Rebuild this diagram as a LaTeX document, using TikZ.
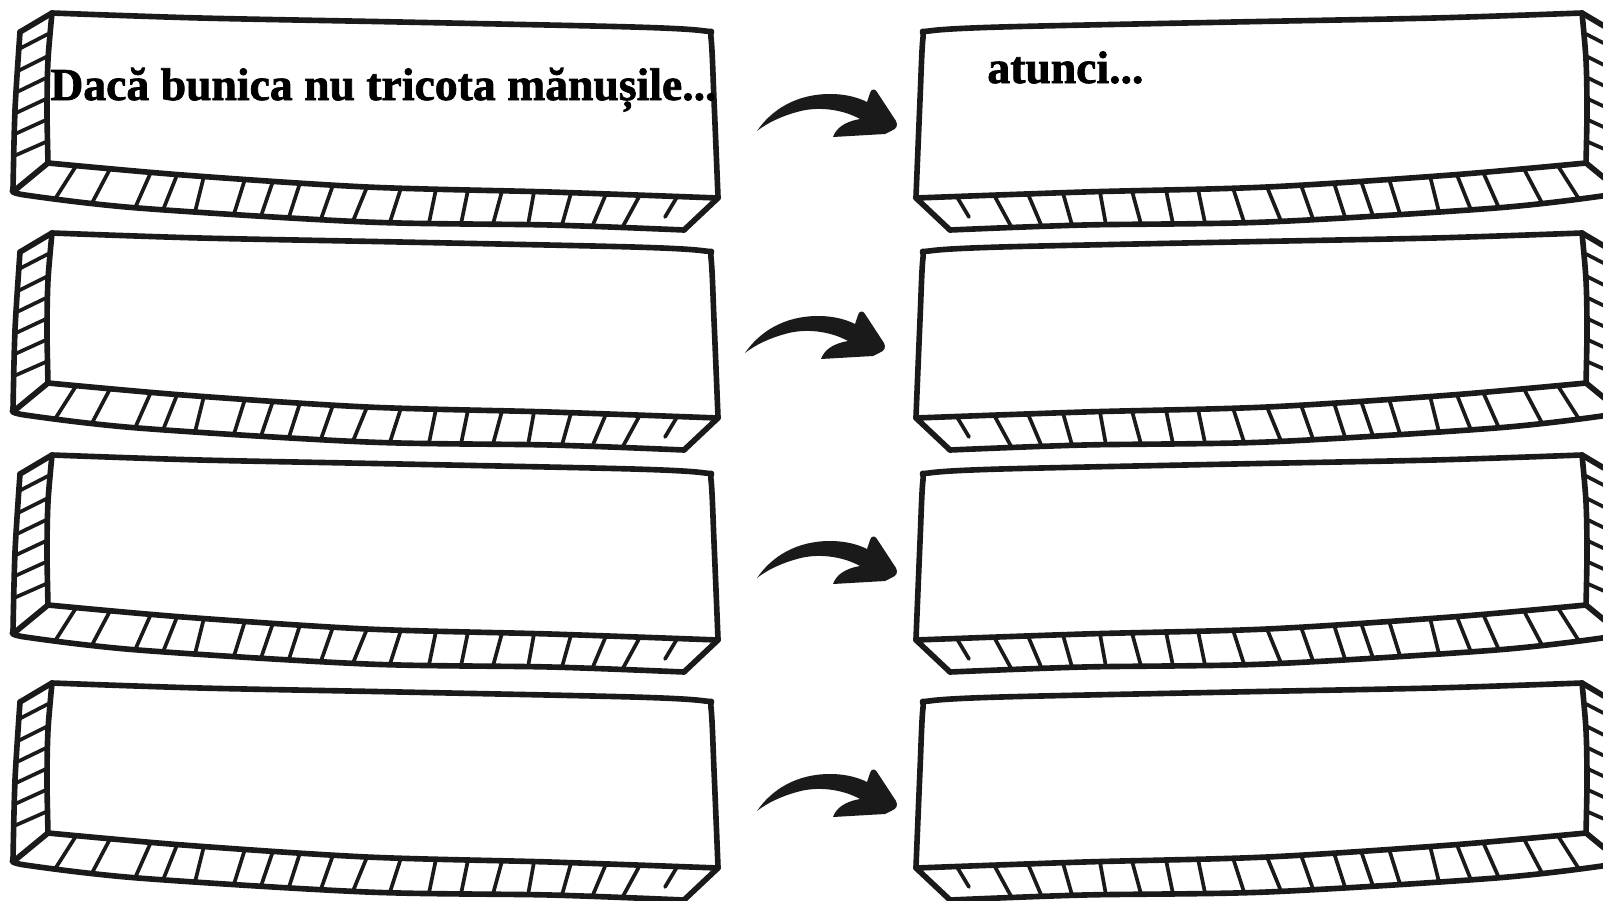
\documentclass[tikz,border=0pt]{standalone}
\usepackage{fontspec}
\setmainfont{Liberation Serif}
\newfontfamily\heavySerif{Liberation Serif Bold}[FakeBold=1.6]
\definecolor{inkBlack}{HTML}{1A1A1A}

\tikzset{
  boxEdge/.style={draw=inkBlack,line width=3.2pt,line cap=round,line join=round},
  boxHatch/.style={draw=inkBlack,line width=2.1pt,line cap=round},
  capText/.style={anchor=base west,inner sep=0pt,text=black,font=\heavySerif\fontsize{26pt}{30pt}\selectfont},
  pics/sketchBox/.style={code={
    % front face
    \draw[boxEdge] plot[smooth] coordinates {(52,13) (200,18) (400,22) (633,27) (705,31) (711,38) (714,100) (718,197)};
    \draw[boxEdge] plot[smooth] coordinates {(48,163) (183,175) (367,187) (550,192) (718,198)};
    \draw[boxEdge] plot[smooth] coordinates {(48,163) (47,110) (48,60) (52,13)};
    % side and bottom faces
    \draw[boxEdge] (52,13) -- (20,32);
    \draw[boxEdge] plot[smooth] coordinates {(20,32) (15,110) (13,190)};
    \draw[boxEdge] plot[smooth] coordinates {(13,190) (25,195) (138,208) (367,222) (550,225) (684,230)};
    \draw[boxEdge] (684,230) -- (718,198);
    \draw[boxEdge] (48,163) -- (14,191);
    \foreach \ya/\xb in {34/19,56/18,77/17,98/16,119/15,141/14}
      \draw[boxHatch] (48,\ya) -- (\xb,\ya+15);
    \foreach \xa/\ya/\xb/\yb in {76/166/55/199,110/169/92/203,151/172/135/208,177/175/163/210,
        204/176/195/212,245/179/234/214,273/181/261/216,300/183/289/217,333/185/321/219,
        367/187/353/221,401/188/390/222,436/189/429/223,468/190/461/224,502/191/493/224,
        534/192/528/225,571/193/562/225,606/194/592/227,640/195/622/228,677/197/665/217}
      \draw[boxHatch] (\xa,\ya) -- (\xb,\yb);
  }},
  pics/bentArrow/.style={code={
    \fill[inkBlack] (0,0) .. controls (15,-22) and (40,-37) .. (73,-37)
      .. controls (90,-37) and (102,-33) .. (110,-29) -- (113,-38)
      .. controls (114,-42) and (118,-43) .. (120,-39) -- (139,-10)
      .. controls (141,-6) and (140,-2) .. (134,0) -- (128,3) -- (76,6)
      .. controls (79,-2) and (86,-9) .. (103,-12)
      .. controls (85,-22) and (60,-25) .. (40,-19)
      .. controls (25,-15) and (10,-8) .. (0,0) -- cycle;
  }}
}

\begin{document}
\begin{tikzpicture}[x=0.02cm,y=-0.02cm]
  \useasboundingbox (0,0) rectangle (1603,900);
  \foreach \off in {0,220,442,670} {
    \pic at (0,\off) {sketchBox};
    \pic[xscale=-1] at (1634,\off) {sketchBox};
  }
  \foreach \ax/\ay in {757/131,745/353,757/578,757/811}
    \pic at (\ax,\ay) {bentArrow};
  \node[capText] (cause) at (50,100) {Dacă bunica nu tricota mănușile...};
  \node[capText] (effect) at (987,83) {atunci...};
\end{tikzpicture}
\end{document}
